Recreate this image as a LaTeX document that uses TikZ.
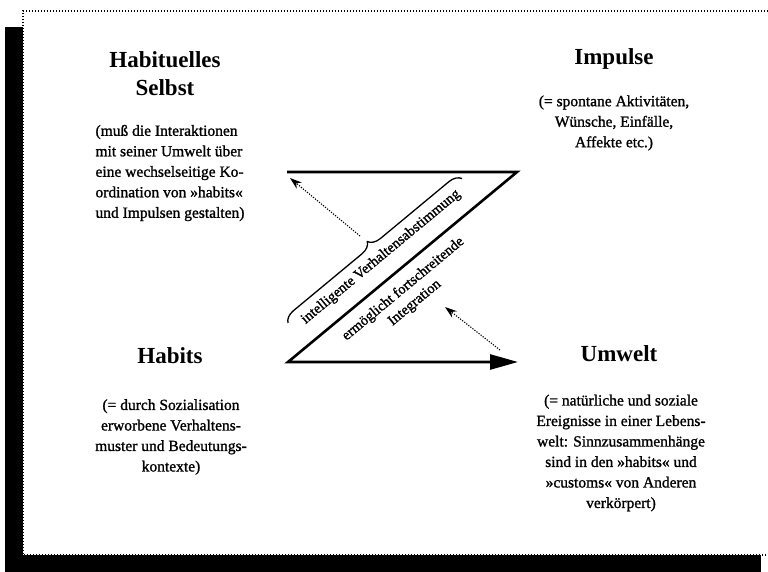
\documentclass[tikz,border=0pt]{standalone}
\usepackage{fontspec}
\setmainfont{Liberation Serif}
\newfontfamily\bodyfont{Liberation Serif}[FakeBold=1.2]
\usetikzlibrary{arrows.meta,decorations.pathreplacing}
\begin{document}
\begin{tikzpicture}[x=1pt,y=-1pt,
  head/.style={font=\fontsize{23}{28}\selectfont\bfseries, align=center, inner sep=0pt},
  body/.style={font=\bodyfont\fontsize{15.5}{20.5}\selectfont, inner sep=0pt},
  rot/.style={font=\bodyfont\fontsize{14.5}{18}\selectfont, inner sep=0pt, rotate=39.7, align=center},
  zline/.style={line width=2.6pt, miter limit=4},
  dotarrow/.style={line width=1.1pt, dash pattern=on 1.2pt off 1.4pt, -{Stealth[length=12pt,width=8pt]}},
  bracestyle/.style={line width=1.3pt, decorate, decoration={brace, amplitude=12pt}},
  framestyle/.style={line width=1.4pt, dash pattern=on 1.4pt off 1.6pt}]
\useasboundingbox (0,0) rectangle (768,572);
% shadow and frame
\fill[black] (5,27) rectangle (761,572);
\fill[white] (23,11) rectangle (768,555);
\coordinate (f1) at (766,555);
\coordinate (f2) at (23,555);
\coordinate (f3) at (23,11);
\coordinate (f4) at (768,11);
\draw[framestyle] (f1) -- (f2) -- (f3) -- (f4);
% corners of the Z
\coordinate (tl) at (287,172);
\coordinate (tr) at (517,172);
\coordinate (bl) at (288,362);
\coordinate (br) at (518,362);
\draw[zline, -{Triangle[length=28pt,width=15pt]}] (tl) -- (tr) -- (bl) -- (br);
% brace
\coordinate (b1) at (288,323);
\coordinate (b2) at (462,178.6);
\draw[bracestyle] (b1) -- (b2);
% dotted arrows
\coordinate (d1s) at (360,236);
\coordinate (d1e) at (290,178);
\coordinate (d2s) at (500,350);
\coordinate (d2e) at (445,307);
\draw[dotarrow] (d1s) -- (d1e);
\draw[dotarrow] (d2s) -- (d2e);
% rotated texts
\node[rot] (iv) at (381,257) {intelligente Verhaltensabstimmung};
\node[rot] (ef) at (409,296) {ermöglicht fortschreitende\\Integration};
% corner texts
\node[head] (hs) at (165,74) {Habituelles\\Selbst};
\node[body, align=left] (hsb) at (170,173) {(muß die Interaktionen\\mit seiner Umwelt über\\eine wechselseitige Ko-\\ordination von »habits«\\und Impulsen gestalten)};
\node[head] (imp) at (614,59) {Impulse};
\node[body, align=center] (impb) at (614,123) {(= spontane Aktivitäten,\\Wünsche, Einfälle,\\Affekte etc.)};
\node[head] (hab) at (170,356) {Habits};
\node[body, align=center] (habb) at (171,437) {(= durch Sozialisation\\erworbene Verhaltens-\\muster und Bedeutungs-\\kontexte)};
\node[head] (umw) at (619,354) {Umwelt};
\node[body, align=center] (umwb) at (621,453) {(= natürliche und soziale\\Ereignisse in einer Lebens-\\welt: Sinnzusammenhänge\\sind in den »habits« und\\»customs« von Anderen\\verkörpert)};
\end{tikzpicture}
\end{document}
